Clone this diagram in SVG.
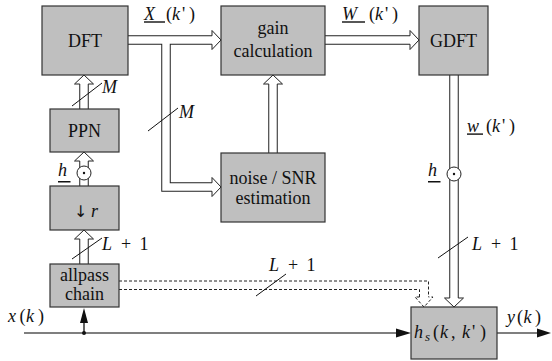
<svg xmlns="http://www.w3.org/2000/svg" width="552" height="361" viewBox="0 0 552 361">
<g id="connectors">
<g id="pipes-dark" fill="none" stroke="#222" stroke-width="9.5">
<path d="M128,40 H212"/>
<path d="M166,40 V187 H212"/>
<path d="M325,40 H410"/>
<path d="M273,153 V84"/>
<path d="M454,75 V172"/>
<path d="M454,176 V298"/>
<path d="M84,109 V84"/>
<path d="M84,186 V175"/>
<path d="M84,171 V161"/>
<path d="M84,264 V239"/>
</g>
<g id="pipes-white" fill="none" stroke="#fff" stroke-width="7.5">
<path d="M128,40 H212"/>
<path d="M166,40 V187 H212"/>
<path d="M325,40 H410"/>
<path d="M273,153 V84"/>
<path d="M454,75 V172"/>
<path d="M454,176 V298"/>
<path d="M84,109 V84"/>
<path d="M84,186 V175"/>
<path d="M84,171 V161"/>
<path d="M84,264 V239"/>
</g>
<g id="heads" fill="#fff" stroke="#222" stroke-width="1">
<path d="M212,35.75 V30.5 L221,40 L212,49.5 V44.25"/>
<path d="M212,182.75 V177.5 L221,187 L212,196.5 V191.25"/>
<path d="M410,35.75 V30.5 L419,40 L410,49.5 V44.25"/>
<path d="M268.75,84 H263.5 L273,75 L282.5,84 H277.25"/>
<path d="M449.75,298 H444.5 L454,307 L463.5,298 H458.25"/>
<path d="M79.75,84 H74.5 L84,75 L93.5,84 H88.25"/>
<path d="M79.75,161 H74.5 L84,152 L93.5,161 H88.25"/>
<path d="M79.75,239 H74.5 L84,230 L93.5,239 H88.25"/>
</g>
<g id="odots" stroke="#222" stroke-width="1">
<circle cx="454" cy="174" r="7" fill="#fff"/>
<circle cx="454" cy="174" r="1.2" fill="#111" stroke="none"/>
<circle cx="84" cy="173" r="7" fill="#fff"/>
<circle cx="84" cy="173" r="1.2" fill="#111" stroke="none"/>
</g>
<g id="dashed-pipe" fill="none" stroke="#222" stroke-width="1" stroke-dasharray="3 2">
<path d="M119,281 H428.5 V297"/>
<path d="M119,289.5 H419.5 V297"/>
<path d="M419.5,297 H415 L424,307 L433,297 H428.5"/>
</g>
<g id="signal">
<path d="M24,333 H398" stroke="#555" stroke-width="1.3" fill="none"/>
<polygon points="411,333 396,328.5 396,337.5" fill="#111"/>
<path d="M497,333 H538" stroke="#555" stroke-width="1.3" fill="none"/>
<polygon points="551,333 537,328.5 537,337.5" fill="#111"/>
<path d="M84,333 V321" stroke="#111" stroke-width="1.3" fill="none"/>
<polygon points="84,308 80,323 88,323" fill="#111"/>
<circle cx="84" cy="333" r="2" fill="#111"/>
</g>
<g id="slashes" stroke="#111" stroke-width="1">
<line x1="72" y1="106" x2="102" y2="83"/>
<line x1="148" y1="131" x2="178" y2="108"/>
<line x1="72" y1="259" x2="102" y2="238"/>
<line x1="256" y1="296" x2="286" y2="274"/>
<line x1="438" y1="258" x2="468" y2="237"/>
</g>
<g id="labels" fill="#111">
<text font-family="Liberation Serif" font-size="18" y="20"><tspan font-style="italic" x="144">X</tspan><tspan x="166">(</tspan><tspan font-style="italic" x="172">k</tspan><tspan x="182">'</tspan><tspan x="189">)</tspan></text>
<rect x="144" y="21.3" width="21" height="1.4"/>
<text font-family="Liberation Serif" font-size="18" y="20"><tspan font-style="italic" x="342">W</tspan><tspan x="369">(</tspan><tspan font-style="italic" x="375">k</tspan><tspan x="385">'</tspan><tspan x="392">)</tspan></text>
<rect x="342" y="21.3" width="23" height="1.4"/>
<text font-family="Liberation Serif" font-size="18" y="132"><tspan font-style="italic" x="467">w</tspan><tspan x="486">(</tspan><tspan font-style="italic" x="492">k</tspan><tspan x="502">'</tspan><tspan x="509">)</tspan></text>
<rect x="467" y="133.4" width="16" height="1.4"/>
<text font-family="Liberation Serif" font-size="18" font-style="italic" x="428" y="176">h</text>
<rect x="428" y="181" width="12.5" height="1.5"/>
<text font-family="Liberation Serif" font-size="18" font-style="italic" x="58" y="176">h</text>
<rect x="58" y="181" width="12.5" height="1.5"/>
<text font-family="Liberation Serif" font-size="18" font-style="italic" x="102" y="92.5">M</text>
<text font-family="Liberation Serif" font-size="18" font-style="italic" x="179" y="118">M</text>
<text font-family="Liberation Serif" font-size="18" y="250"><tspan font-style="italic" x="102">L</tspan><tspan x="121">+</tspan><tspan x="139.5">1</tspan></text>
<text font-family="Liberation Serif" font-size="18" y="250"><tspan font-style="italic" x="472">L</tspan><tspan x="491">+</tspan><tspan x="509.5">1</tspan></text>
<text font-family="Liberation Serif" font-size="18" y="270.5"><tspan font-style="italic" x="269">L</tspan><tspan x="288">+</tspan><tspan x="306.5">1</tspan></text>
<text font-family="Liberation Serif" font-size="18" y="322"><tspan font-style="italic" x="8">x</tspan><tspan x="19.5">(</tspan><tspan font-style="italic" x="26">k</tspan><tspan x="38">)</tspan></text>
<text font-family="Liberation Serif" font-size="18" y="323"><tspan font-style="italic" x="507">y</tspan><tspan x="517">(</tspan><tspan font-style="italic" x="523.5">k</tspan><tspan x="535">)</tspan></text>
</g>
</g>
<g id="dft"><rect x="42" y="6" width="86" height="69" fill="#bfbfbf" stroke="#333" stroke-width="1.2"/><text font-family="Liberation Serif" font-size="18" fill="#111" text-anchor="middle" x="85" y="46.5">DFT</text></g>
<g id="ppn"><rect x="50" y="109" width="69" height="43" fill="#bfbfbf" stroke="#333" stroke-width="1.2"/><text font-family="Liberation Serif" font-size="18" fill="#111" text-anchor="middle" x="84.5" y="137">PPN</text></g>
<g id="downsample"><rect x="50" y="186" width="69" height="44" fill="#bfbfbf" stroke="#333" stroke-width="1.2"/><text font-family="DejaVu Sans" font-size="16" fill="#111" x="74" y="216.5">↓</text><text font-family="Liberation Serif" font-size="18" fill="#111" font-style="italic" x="91" y="216.5">r</text></g>
<g id="allpass"><rect x="50" y="264" width="69" height="43" fill="#bfbfbf" stroke="#333" stroke-width="1.2"/><text font-family="Liberation Serif" font-size="18" fill="#111" text-anchor="middle" x="84.5" y="280.5">allpass</text><text font-family="Liberation Serif" font-size="18" fill="#111" text-anchor="middle" x="84.5" y="299.5">chain</text></g>
<g id="gain"><rect x="221" y="6" width="104" height="69" fill="#bfbfbf" stroke="#333" stroke-width="1.2"/><text font-family="Liberation Serif" font-size="18" fill="#111" text-anchor="middle" x="273" y="33.5">gain</text><text font-family="Liberation Serif" font-size="18" fill="#111" text-anchor="middle" x="273" y="56.5">calculation</text></g>
<g id="noise"><rect x="221" y="153" width="104" height="69" fill="#bfbfbf" stroke="#333" stroke-width="1.2"/><text font-family="Liberation Serif" font-size="18" fill="#111" text-anchor="middle" x="273" y="184">noise / SNR</text><text font-family="Liberation Serif" font-size="18" fill="#111" text-anchor="middle" x="273" y="204">estimation</text></g>
<g id="gdft"><rect x="419" y="6" width="69" height="69" fill="#bfbfbf" stroke="#333" stroke-width="1.2"/><text font-family="Liberation Serif" font-size="18" fill="#111" text-anchor="middle" x="453.5" y="46.5">GDFT</text></g>
<g id="hs"><rect x="411" y="307" width="86" height="52" fill="#bfbfbf" stroke="#333" stroke-width="1.2"/><text font-family="Liberation Serif" font-size="18" fill="#111" y="338"><tspan font-style="italic" x="414">h</tspan><tspan font-style="italic" font-size="13" x="425" dy="3">s</tspan><tspan x="433" dy="-3">(</tspan><tspan font-style="italic" x="440">k</tspan><tspan x="451">,</tspan><tspan font-style="italic" x="462">k</tspan><tspan x="472">'</tspan><tspan x="480">)</tspan></text></g>
</svg>
